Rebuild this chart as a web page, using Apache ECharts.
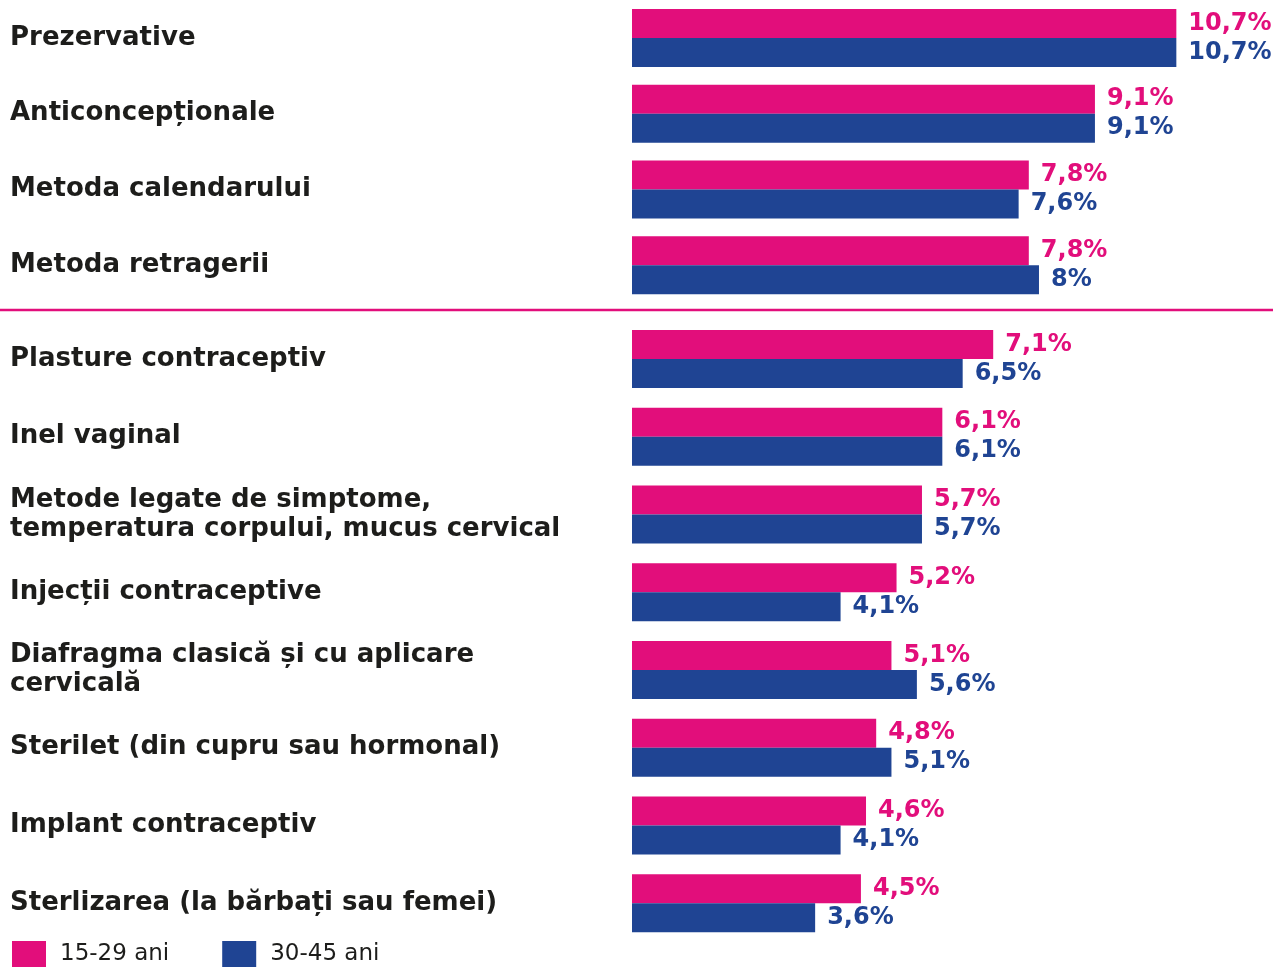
<!DOCTYPE html>
<html>
<head>
<meta charset="utf-8">
<script src="https://cdn.jsdelivr.net/npm/echarts@6/dist/echarts.min.js"></script>
<style>html,body{margin:0;padding:0;background:#fff}#c{width:1273px;height:967px}</style>
</head>
<body>
<div id="c"></div>
<script>
const topCategories = ['Prezervative', 'Anticoncepționale', 'Metoda calendarului', 'Metoda retragerii'];
const topYoung = [10.7, 9.1, 7.8, 7.8];
const topOld = [10.7, 9.1, 7.6, 8];
const bottomCategories = ['Plasture contraceptiv', 'Inel vaginal', 'Metode legate de simptome,\ntemperatura corpului, mucus cervical', 'Injecții contraceptive', 'Diafragma clasică și cu aplicare\ncervicală', 'Sterilet (din cupru sau hormonal)', 'Implant contraceptiv', 'Sterlizarea (la bărbați sau femei)'];
const bottomYoung = [7.1, 6.1, 5.7, 5.2, 5.1, 4.8, 4.6, 4.5];
const bottomOld = [6.5, 6.1, 5.7, 4.1, 5.6, 5.1, 4.1, 3.6];
const seriesNames = ['15-29 ani', '30-45 ani'];

const PINK = '#e20e7b', BLUE = '#1f4493';
const FONT = 'DejaVu Sans';
const fmt = p => String(p.value).replace('.', ',') + '%';

const chart = echarts.init(document.getElementById('c'));
function yAx(idx, cats) {
  return {
    type: 'category', gridIndex: idx, data: cats, inverse: true,
    axisLine: {show: false}, axisTick: {show: false},
    axisLabel: {align: 'left', margin: 622, fontFamily: FONT, fontWeight: 'bold', fontSize: 26,
      color: '#1d1d1b', lineHeight: 29}
  };
}
function xAx(idx) {
  return {type: 'value', gridIndex: idx, min: 0, max: 12.6, show: false, splitLine: {show: false}};
}
function bar(name, data, idx, color) {
  return {
    type: 'bar', name, data, xAxisIndex: idx, yAxisIndex: idx, barWidth: 29, barGap: '0%',
    itemStyle: {color}, animation: false,
    label: {show: true, position: 'right', distance: 12, formatter: fmt, color,
      fontFamily: FONT, fontWeight: 'bold', fontSize: 24}
  };
}
chart.setOption({
  animation: false,
  grid: [
    {left: 632, right: 0, top: -4, height: 307},
    {left: 632, right: 0, top: 320, height: 622}
  ],
  xAxis: [xAx(0), xAx(1)],
  yAxis: [yAx(0, topCategories), yAx(1, bottomCategories)],
  legend: {left: 7, top: 936, itemWidth: 34, itemHeight: 26, itemGap: 53, icon: 'rect',
    data: seriesNames, selectedMode: false,
    textStyle: {fontFamily: FONT, fontSize: 23, color: '#1d1d1b', padding: [0, 0, 0, 9]}},
  series: [
    bar(seriesNames[0], topYoung, 0, PINK),
    bar(seriesNames[1], topOld, 0, BLUE),
    bar(seriesNames[0], bottomYoung, 1, PINK),
    bar(seriesNames[1], bottomOld, 1, BLUE)
  ],
  graphic: [{type: 'line', shape: {x1: 0, y1: 310, x2: 1273, y2: 310}, style: {stroke: PINK, lineWidth: 2.5}}]
});
</script>
</body>
</html>
